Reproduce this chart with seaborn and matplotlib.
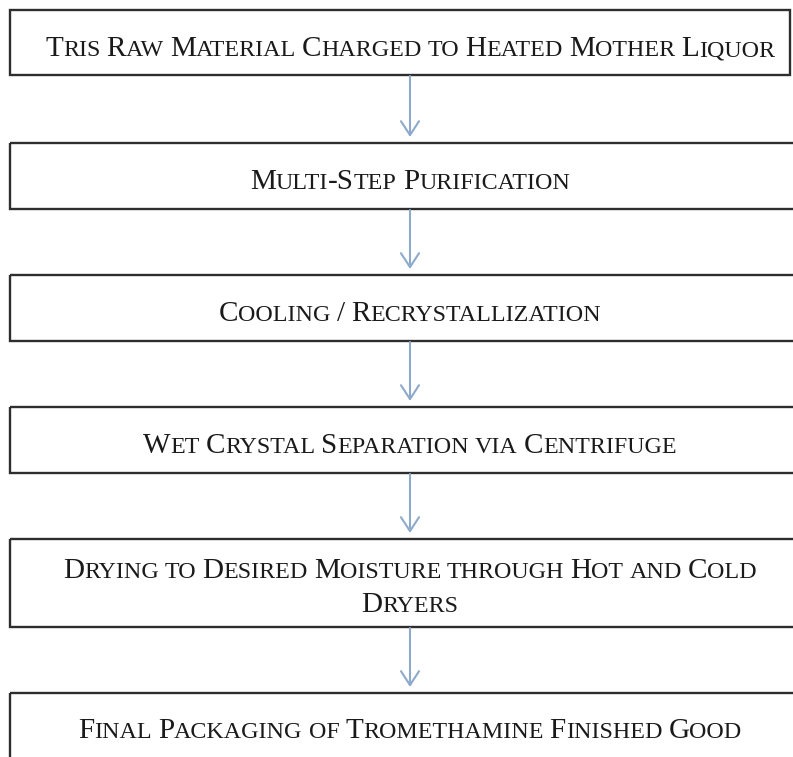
import matplotlib
matplotlib.use("Agg")
import matplotlib.pyplot as plt
import seaborn as sns
from matplotlib.patches import Rectangle

# ---- data: process steps (mixed case; rendered as small caps) ----
steps = [
    "Tris Raw Material Charged to Heated Mother Liquor",
    "Multi-Step Purification",
    "Cooling / Recrystallization",
    "Wet Crystal Separation via Centrifuge",
    "Drying to Desired Moisture through Hot and Cold\nDryers",
    "Final Packaging of Tromethamine Finished Good",
]

# ---- layout (pixels from the top) ----
box_tops = [10, 143, 275, 407, 539, 693]
box_bottoms = [75, 209, 341, 473, 627, 780]
box_rights = [790, 810, 810, 810, 810, 810]
box_left = 10
center_x = 410
W, H = 793, 757

sns.set_theme(style="white")
plt.rcParams["font.family"] = ["Liberation Serif", "DejaVu Serif"]

BIG = 21
SMALL = 17.3
TEXT_COLOR = "#1a1a1a"
BOX_COLOR = "#2e2e2e"
ARROW_COLOR = "#8eaacb"

fig = plt.figure(figsize=(W / 100, H / 100), dpi=100)
ax = fig.add_axes([0, 0, 1, 1])
ax.set_xlim(0, W)
ax.set_ylim(H, 0)
ax.axis("off")

fig.canvas.draw()
renderer = fig.canvas.get_renderer()


def runs_of(word):
    runs = []
    for ch in word:
        big = not ch.islower()
        if runs and runs[-1][1] == big:
            runs[-1][0] += ch.upper()
        else:
            runs.append([ch.upper(), big])
    return runs


def draw_smallcaps(line, xc, yb):
    words = line.split(" ")
    items = []  # (artist or None, width)
    gap = SMALL * 100 / 72 * 0.25
    for wi, word in enumerate(words):
        if wi > 0:
            items.append((None, gap))
        for txt, big in runs_of(word):
            t = ax.text(0, yb, txt, fontsize=BIG if big else SMALL,
                        color=TEXT_COLOR, ha="left", va="baseline")
            w = t.get_window_extent(renderer=renderer).width
            items.append((t, w))
    total = sum(w for _, w in items)
    x = xc - total / 2
    for t, w in items:
        if t is not None:
            t.set_x(x)
        x += w


baselines = [[56], [189], [321], [453], [578, 612], [738]]

for i, label in enumerate(steps):
    top, bot = box_tops[i], box_bottoms[i]
    ax.add_patch(Rectangle((box_left, top), box_rights[i] - box_left, bot - top,
                           fill=False, edgecolor=BOX_COLOR, linewidth=1.7,
                           zorder=2))
    for line, yb in zip(label.split("\n"), baselines[i]):
        draw_smallcaps(line, center_x, yb)
    if i < len(steps) - 1:
        ax.annotate("", xy=(center_x, box_tops[i + 1] - 6),
                    xytext=(center_x, bot + 1),
                    arrowprops=dict(arrowstyle="->,head_length=1.0,head_width=0.65",
                                    color=ARROW_COLOR, lw=1.5,
                                    shrinkA=0, shrinkB=0, mutation_scale=10))

fig.savefig("out.png", dpi=100, facecolor="white")
